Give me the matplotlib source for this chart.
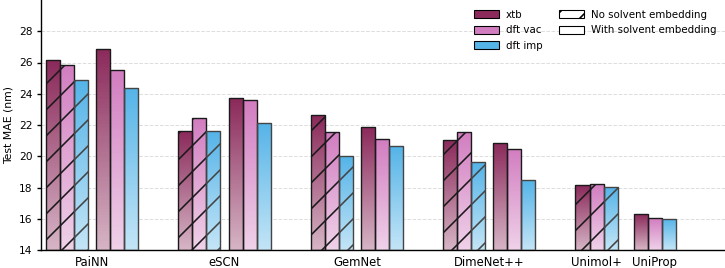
import numpy as np
import matplotlib.pyplot as plt
import matplotlib.colors as mcolors
from matplotlib.patches import Patch

models = ["PaiNN", "eSCN", "GemNet", "DimeNet++", "Unimol+", "UniProp"]
methods = ["xtb", "dft vac", "dft imp"]

# MAE per model, order xtb / dft vac / dft imp (None = not available)
no_solvent = [
    [26.15, 25.87, 24.85],
    [21.64, 22.45, 21.64],
    [22.64, 21.55, 20.0],
    [21.05, 21.57, 19.62],
    [18.13, 18.2, 18.05],
    None,
]
with_solvent = [
    [26.87, 25.55, 24.4],
    [23.7, 23.57, 22.15],
    [21.9, 21.08, 20.64],
    [20.87, 20.49, 18.45],
    None,
    [16.3, 16.04, 16.0],
]

# x position of each model label (two last ones share the 5th slot)
model_pos = [0, 1, 2, 3, 3.81, 4.25]

colors = ["#8b2a5b", "#d27dc0", "#55b4e8"]
edges = ["#1a1a1a", "#1a1a1a", "#444444"]
ymin = 14
width = 0.106
shift = 0.19

# lower dpi -> denser hatching, sizes below are rescaled to keep pixel sizes
DPI = 78
s = 100 / DPI


def gradient_bar(ax, x, h, color, edge, hatch):
    bar = ax.bar(x, h - ymin, width, bottom=ymin, facecolor="none",
                 edgecolor=edge, linewidth=1.0 * s, hatch=hatch, zorder=3)[0]
    rgb = np.array(mcolors.to_rgb(color))
    t = np.linspace(0, 1, 64)[:, None]
    # light at the bottom, full colour at the top
    img = (1 - t) * (0.35 * rgb + 0.65) + t * rgb
    img = np.repeat(img[:, None, :], 2, axis=1)
    im = ax.imshow(img, extent=[x - width / 2, x + width / 2, ymin, h],
                   origin="lower", aspect="auto", zorder=2)
    im.set_clip_path(bar)


plt.rcParams["hatch.linewidth"] = 1.15 * s
plt.rcParams["axes.linewidth"] = 1.0 * s
plt.rcParams["ytick.major.width"] = 1.0 * s

fig = plt.figure(figsize=(725 / DPI, 268 / DPI), dpi=DPI)
ax = fig.add_axes([41 / 725, 18 / 268, 1 - 41 / 725, 250 / 268])

for i in range(len(models)):
    c = model_pos[i]
    if no_solvent[i] is not None and with_solvent[i] is not None:
        c_no, c_with = c - shift, c + shift
    else:
        c_no, c_with = c, c
    for j in range(3):
        off = (j - 1) * width
        if no_solvent[i] is not None:
            gradient_bar(ax, c_no + off, no_solvent[i][j], colors[j], edges[j], "/")
        if with_solvent[i] is not None:
            gradient_bar(ax, c_with + off, with_solvent[i][j], colors[j], edges[j], None)

ax.set_xlim(-0.385, 4.78)
ax.set_ylim(ymin, 30)
ax.set_yticks(np.arange(14, 30, 2))
ax.set_xticks(model_pos)
ax.set_xticklabels(models, fontsize=8.4 * s)
ax.tick_params(axis="x", length=0, pad=4 * s)
ax.tick_params(axis="y", labelsize=7.7 * s, length=3 * s, pad=3 * s)
ax.set_ylabel("Test MAE (nm)", fontsize=7.8 * s, labelpad=4 * s)
ax.yaxis.grid(True, linestyle="--", color="#dddddd", linewidth=0.7 * s, zorder=0)
ax.set_axisbelow(True)
for sp in ["top", "right"]:
    ax.spines[sp].set_visible(False)

handles = [Patch(facecolor=colors[j], edgecolor="black", label=methods[j]) for j in range(3)]
handles.append(Patch(facecolor="white", edgecolor="black", hatch="/", label="No solvent embedding"))
handles.append(Patch(facecolor="white", edgecolor="black", label="With solvent embedding"))
ax.legend(handles=handles, ncol=2, fontsize=7.4 * s, frameon=False, loc="upper right",
          bbox_to_anchor=(0.998, 0.99), handlelength=2.4, handleheight=0.8,
          labelspacing=0.55, columnspacing=1.6, handletextpad=0.7, borderaxespad=0.3)

fig.savefig("out.png", dpi=DPI)
